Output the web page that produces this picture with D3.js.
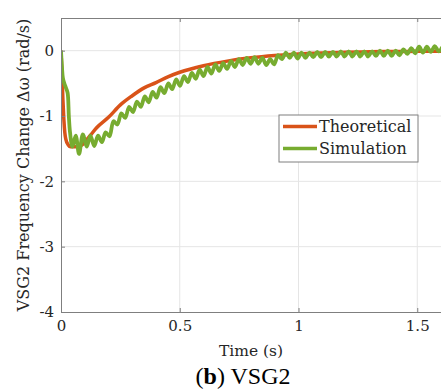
<!doctype html>
<html>
<head>
<meta charset="utf-8">
<script src="https://cdnjs.cloudflare.com/ajax/libs/d3/7.8.5/d3.min.js"></script>
<style>
  body { margin: 0; background: white; }
  svg { background: white; display: block; }
  text { font-family: "DejaVu Serif", serif; fill: #262626; }
</style>
</head>
<body>
<svg id="chart" width="441" height="389"></svg>
<script>
// theoretical response [time (s), delta omega (rad/s)]
const theoretical = [
  [0, 0], [0.004, -0.35], [0.008, -0.75], [0.012, -1.05], [0.016, -1.25], [0.02, -1.35],
  [0.03, -1.44], [0.04, -1.47], [0.06, -1.47], [0.08, -1.46], [0.09, -1.44], [0.1, -1.40],
  [0.125, -1.29], [0.15, -1.18], [0.2, -1.02], [0.25, -0.83], [0.3, -0.69], [0.35, -0.57],
  [0.4, -0.49], [0.45, -0.40], [0.5, -0.33], [0.6, -0.23], [0.7, -0.16], [0.8, -0.11],
  [0.9, -0.075], [1.0, -0.05], [1.1, -0.035], [1.2, -0.025], [1.3, -0.018], [1.4, -0.013],
  [1.5, -0.01], [1.6, -0.008]
];

// simulated response, read peak by peak
const simulation = [
  [0, 0], [0.004, -0.25], [0.008, -0.42], [0.014, -0.5], [0.022, -0.58], [0.028, -0.65],
  [0.033, -1.0], [0.038, -1.25], [0.048, -1.47], [0.062, -1.30], [0.076, -1.58], [0.092, -1.28],
  [0.108, -1.47], [0.124, -1.30], [0.140, -1.46], [0.156, -1.30], [0.172, -1.40], [0.188, -1.25],
  [0.204, -1.31], [0.221, -1.08], [0.237, -1.13], [0.254, -0.96], [0.270, -1.03], [0.287, -0.86],
  [0.303, -0.94], [0.320, -0.78], [0.336, -0.86], [0.353, -0.70], [0.369, -0.79], [0.386, -0.63],
  [0.402, -0.72], [0.419, -0.56], [0.435, -0.65], [0.452, -0.50], [0.468, -0.59], [0.485, -0.44],
  [0.501, -0.54], [0.518, -0.39], [0.534, -0.48], [0.551, -0.34], [0.567, -0.43], [0.584, -0.29],
  [0.600, -0.39], [0.617, -0.25], [0.633, -0.35], [0.650, -0.21], [0.666, -0.31], [0.683, -0.19],
  [0.699, -0.28], [0.716, -0.16], [0.732, -0.25], [0.749, -0.13], [0.765, -0.22], [0.782, -0.11],
  [0.798, -0.20], [0.815, -0.10], [0.831, -0.20], [0.848, -0.11], [0.864, -0.22], [0.881, -0.13],
  [0.897, -0.21], [0.914, -0.07], [0.930, -0.13], [0.947, -0.03], [0.963, -0.11], [0.980, -0.03],
  [0.996, -0.12], [1.013, -0.03], [1.029, -0.11], [1.046, -0.03], [1.062, -0.10], [1.079, -0.02],
  [1.095, -0.10], [1.112, -0.02], [1.128, -0.09], [1.145, -0.02], [1.161, -0.09], [1.178, -0.01],
  [1.194, -0.09], [1.211, -0.01], [1.227, -0.09], [1.244, -0.01], [1.260, -0.09], [1.277, -0.01],
  [1.293, -0.09], [1.310, -0.01], [1.326, -0.08], [1.343, 0.00], [1.359, -0.08], [1.376, 0.00],
  [1.392, -0.08], [1.409, 0.00], [1.425, -0.07], [1.442, 0.02], [1.458, -0.05], [1.475, 0.04],
  [1.491, -0.04], [1.508, 0.06], [1.524, -0.03], [1.541, 0.06], [1.557, -0.02], [1.574, 0.07],
  [1.590, -0.01], [1.607, 0.06]
];

const xTicks = [0, 0.5, 1, 1.5];
const yTicks = [0, -1, -2, -3, -4];
const seriesNames = ["Theoretical", "Simulation"];
const seriesColors = ["#D95319", "#77AC30"];

const svg = d3.select("#chart");
const pLeft = 61, pRight = 441, pTop = 18, pBottom = 312;

const x = d3.scaleLinear().domain([0, 1.6]).range([pLeft, pRight]);
const y = d3.scaleLinear().domain([-4, 0.5]).range([pBottom, pTop]);

// grid
svg.append("g").selectAll("line").data(xTicks.slice(1)).enter().append("line")
  .attr("x1", d => x(d)).attr("x2", d => x(d)).attr("y1", pTop).attr("y2", pBottom)
  .style("stroke", "#e5e5e5").style("stroke-width", 1);
svg.append("g").selectAll("line").data(yTicks.slice(0, 4)).enter().append("line")
  .attr("x1", pLeft).attr("x2", pRight).attr("y1", d => y(d)).attr("y2", d => y(d))
  .style("stroke", "#e5e5e5").style("stroke-width", 1);

svg.append("clipPath").attr("id", "clip").append("rect")
  .attr("x", pLeft).attr("y", pTop).attr("width", pRight - pLeft).attr("height", pBottom - pTop);

svg.append("path").datum(theoretical)
  .attr("clip-path", "url(#clip)")
  .attr("d", d3.line().x(d => x(d[0])).y(d => y(d[1])).curve(d3.curveMonotoneX))
  .style("fill", "none").style("stroke", seriesColors[0]).style("stroke-width", 3.5);

svg.append("path").datum(simulation)
  .attr("clip-path", "url(#clip)")
  .attr("d", d3.line().x(d => x(d[0])).y(d => y(d[1])).curve(d3.curveCatmullRom))
  .style("fill", "none").style("stroke", seriesColors[1]).style("stroke-width", 3.8);

// axes, ticks point inward
const xAxis = d3.axisBottom(x).tickValues(xTicks).tickFormat(d3.format("")).tickSizeInner(-4).tickSizeOuter(0).tickPadding(8);
const yAxis = d3.axisLeft(y).tickValues(yTicks).tickFormat(d => d === 0 ? "0" : "-" + Math.abs(d)).tickSizeInner(-4).tickSizeOuter(0).tickPadding(7);

const gx = svg.append("g").attr("transform", `translate(0,${pBottom})`).call(xAxis);
const gy = svg.append("g").attr("transform", `translate(${pLeft},0)`).call(yAxis);
const gxTop = svg.append("g").attr("transform", `translate(0,${pTop})`)
  .call(d3.axisTop(x).tickValues(xTicks).tickFormat("").tickSizeInner(-4).tickSizeOuter(0));
[gx, gy, gxTop].forEach(g => {
  g.select(".domain").style("stroke", "#7f7f7f");
  g.selectAll(".tick line").style("stroke", "#7f7f7f");
  g.selectAll("text").style("font-family", "DejaVu Serif").style("font-size", "15px").style("fill", "#262626");
});

// axis labels
svg.append("text").attr("x", (pLeft + pRight) / 2).attr("y", 356)
  .attr("text-anchor", "middle").style("font-size", "15.5px").text("Time (s)");
svg.append("text").attr("transform", `translate(29,${(pTop + pBottom) / 2}) rotate(-90)`)
  .attr("text-anchor", "middle").style("font-size", "16px").text("VSG2 Frequency Change Δω (rad/s)");

const cap = svg.append("text").attr("x", 243).attr("y", 384).attr("text-anchor", "middle")
  .style("font-family", "Liberation Serif").style("font-size", "24px").style("fill", "#000");
cap.append("tspan").text("(");
cap.append("tspan").style("font-weight", "bold").text("b");
cap.append("tspan").text(") VSG2");

// legend
const lg = svg.append("g").attr("transform", "translate(279,115)");
lg.append("rect").attr("width", 139).attr("height", 47)
  .style("fill", "white").style("stroke", "#7f7f7f").style("stroke-width", 1);
seriesNames.forEach((name, i) => {
  const cy = 11.5 + i * 22;
  lg.append("line").attr("x1", 4).attr("x2", 38).attr("y1", cy).attr("y2", cy)
    .style("stroke", seriesColors[i]).style("stroke-width", 3.5);
  lg.append("text").attr("x", 40).attr("y", cy + 5).style("font-size", "16px").text(name);
});
</script>
</body>
</html>
